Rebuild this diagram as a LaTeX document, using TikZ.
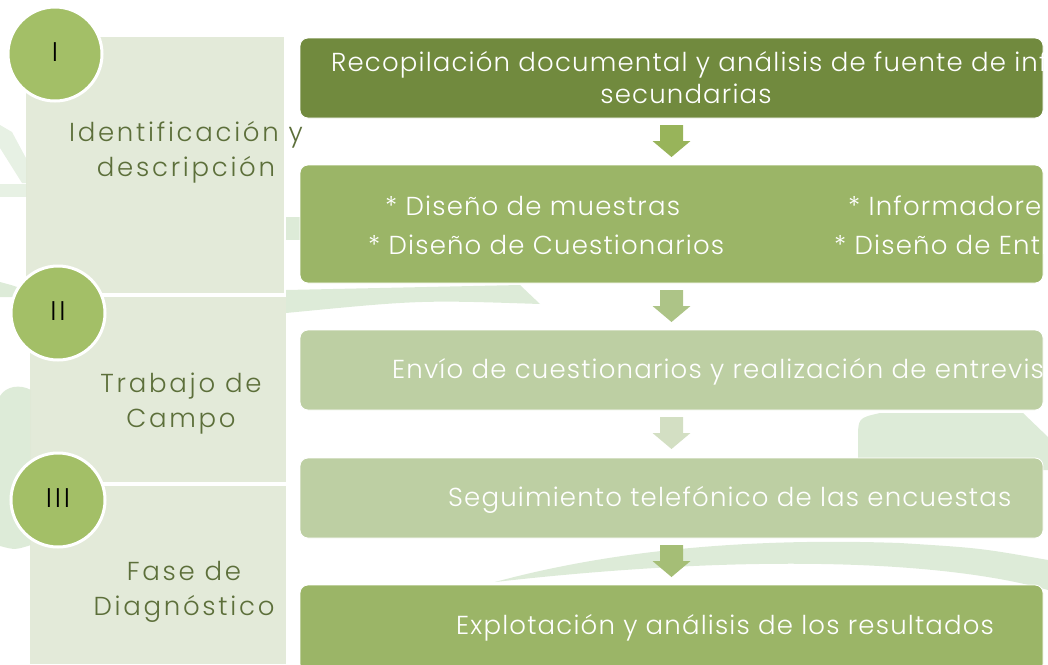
\documentclass[tikz,border=0pt]{standalone}
\usepackage{fontspec}
\IfFontExistsTF{Poppins Light}{%
  \newfontfamily\boxfont{Poppins Light}[LetterSpace=4.5]
  \newfontfamily\lblfont{Poppins Light}[LetterSpace=10.5]
}{%
  \newfontfamily\boxfont{Poppins}[LetterSpace=4]
  \newfontfamily\lblfont{Poppins}[LetterSpace=10]
}
\setmainfont{Poppins}
\definecolor{panelc}{HTML}{E1E8D6}
\definecolor{circc}{HTML}{A3BF67}
\definecolor{labelc}{HTML}{5C6F3A}
\definecolor{boxa}{HTML}{718A3E}
\definecolor{boxb}{HTML}{9BB567}
\definecolor{boxc}{HTML}{BDCFA3}
\definecolor{arra}{HTML}{98B45A}
\definecolor{arrb}{HTML}{ADC487}
\definecolor{arrc}{HTML}{D3DFC3}
\definecolor{arrd}{HTML}{A5BE76}
\definecolor{bgc}{HTML}{DDEBD8}
\begin{document}
\begin{tikzpicture}[x=1pt,y=-1pt,
  lbl/.style={font=\lblfont\fontsize{26}{35}\selectfont, text=labelc, align=center, inner sep=0},
  btxt/.style={font=\boxfont\fontsize{26}{29}\selectfont, text=white, anchor=west, inner sep=0},
  boxshape/.style={rounded corners=8pt, draw=white, line width=0.8pt},
  numcirc/.style={circle, fill=circc, draw=white, line width=3pt, minimum size=94pt, inner sep=0,
    font=\lblfont\fontsize{27}{27}\selectfont, text=black},
  panel/.style={fill=panelc, fill opacity=0.92},
  blockarrow/.pic={\fill (-11.5,0) -- (11.5,0) -- (11.5,16) -- (19,16) -- (0,32) -- (-19,16) -- (-11.5,16) -- cycle;}
]
\useasboundingbox (0,0) rectangle (1048,664);
% background swooshes
\fill[bgc, opacity=0.7] (0,125) -- (0,148) -- (22,183) -- (27,183) -- (27,160) -- (12,132) -- cycle;
\fill[bgc, opacity=0.7] (0,184) rectangle (27,197);
\fill[bgc] (0,282) .. controls (15,286) .. (30,292) -- (30,300) .. controls (15,297) .. (0,297) -- cycle;
\fill[bgc] (0,396) .. controls (6,386) and (20,384) .. (31,390) -- (31,545) .. controls (15,550) .. (0,546) -- cycle;
\fill[bgc] (286,217) rectangle (300,240);
\fill[bgc] (286,290) -- (520,285) -- (540,304) .. controls (420,300) .. (286,313) -- cycle;
\fill[bgc] (880,413) -- (1023,413) -- (1048,437) -- (1048,470) -- (858,470) -- (858,440) .. controls (858,418) .. (880,413) -- cycle;
\fill[bgc] (495,582) .. controls (620,548) and (760,538) .. (900,543) .. controls (980,548) .. (1048,560) -- (1048,590) .. controls (950,562) and (760,552) .. cycle;
% left panel
\fill[panel] (26,37) rectangle (284,293);
\fill[panel] (30,297) rectangle (286,482);
\fill[panel] (30,486) rectangle (286,664);
\node[lbl] (l1) at (186,152) {Identificación y\\descripción};
\node[lbl] (l2) at (181,404) {Trabajo de\\Campo};
\node[lbl] (l3) at (184,592) {Fase de\\Diagnóstico};
\node[numcirc] (c1) at (55,54) {\raisebox{4pt}{I}};
\node[numcirc] (c2) at (58,313) {\raisebox{4pt}{II}};
\node[numcirc] (c3) at (58,500) {\raisebox{4pt}{III}};
% right boxes
\fill[boxa, boxshape] (300,38) rectangle (1043,118);
\fill[boxb, boxshape] (300,165) rectangle (1043,283);
\fill[boxc, boxshape] (300,330) rectangle (1043,410);
\fill[boxc, boxshape] (300,458) rectangle (1043,538);
\fill[boxb, boxshape] (300,585) rectangle (1043,672);
\node[btxt] (t1) at (331,65) {Recopilación documental y análisis de fuente de información};
\node[btxt, anchor=center] (t1b) at (686,94) {secundarias};
\node[btxt] (t2a) at (385,206) {* Diseño de muestras};
\node[btxt] (t2b) at (848,206) {* Informadores};
\node[btxt] (t2c) at (368,245) {* Diseño de Cuestionarios};
\node[btxt] (t2d) at (834,245) {* Diseño de Entrevistas};
\node[btxt] (t3) at (392,372) {Envío de cuestionarios y realización de entrevistas};
\node[btxt] (t4) at (448,500) {Seguimiento telefónico de las encuestas};
\node[btxt] (t5) at (456,628) {Explotación y análisis de los resultados};
% block arrows
\pic[color=arra] at (671.5,125) {blockarrow};
\pic[color=arrb] at (671.5,290) {blockarrow};
\pic[color=arrc] at (671.5,417) {blockarrow};
\pic[color=arrd] at (671.5,545) {blockarrow};
\end{tikzpicture}
\end{document}
